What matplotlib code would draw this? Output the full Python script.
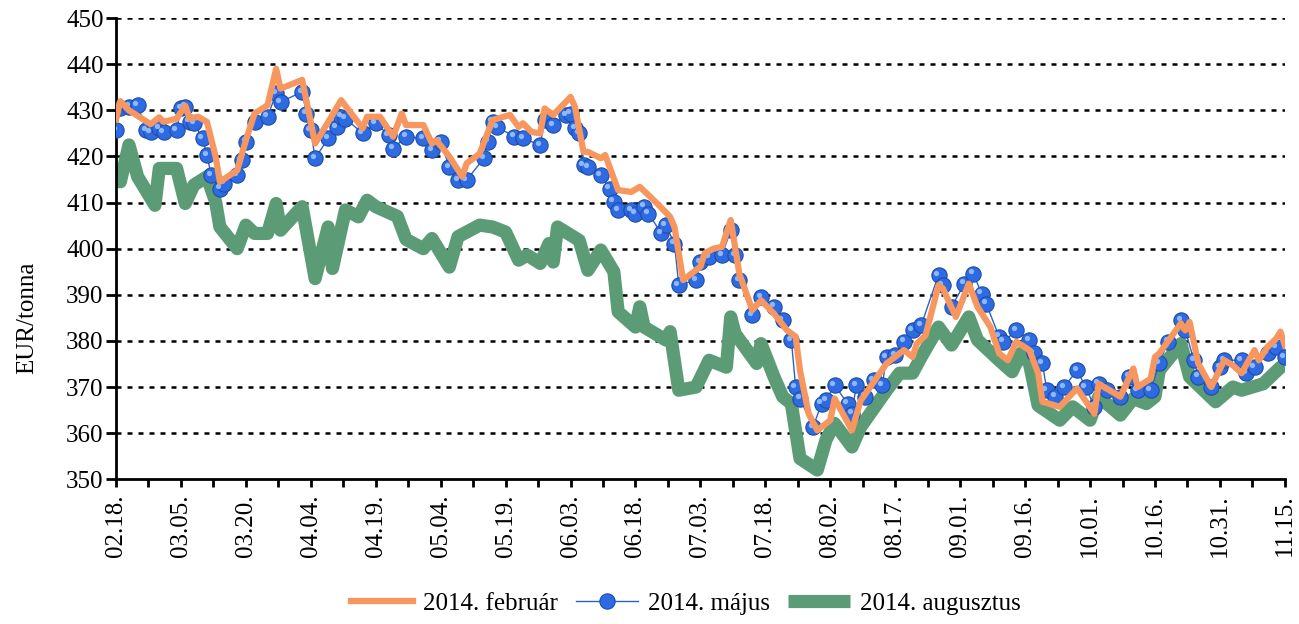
import matplotlib

matplotlib.use("Agg")
import matplotlib.pyplot as plt
import matplotlib.dates as mdates
import matplotlib.transforms as mtransforms
import pandas as pd

START = pd.Timestamp("2013-02-18")

# day offsets from 02.18. and prices (EUR/tonna)
feb_days = [0, 1, 3, 8, 10, 11, 14, 16, 17, 19, 21, 23, 24, 28, 30, 32, 35, 37, 38, 43,
            46, 50, 52, 57, 58, 61, 64, 66, 67, 71, 73, 74, 77, 80, 81, 84, 87, 91, 93, 94,
            96, 98, 99, 101, 105, 106, 108, 109, 112, 113, 116, 119, 121, 125, 128, 129, 131, 135, 136, 138,
            140, 142, 144, 147, 149, 152, 155, 157, 158, 160, 162, 165, 166, 170, 172, 178, 182, 184, 185, 187,
            190, 191, 194, 197, 199, 202, 204, 206, 208, 211, 213, 214, 218, 222, 226, 227, 232, 235, 236, 239,
            240, 241, 246, 247, 248, 250, 253, 256, 258, 260, 263, 264, 266, 268, 269, 270]
feb_vals = [428, 432, 430, 427, 428.5, 427.5, 428.2, 431, 428.2, 428.6, 427.5, 420, 414.5, 417, 423.5, 429.3, 431.1, 439, 434.7, 436.6,
            422.8, 429, 432.2, 426.1, 428.6, 428.6, 424.3, 429.3, 426.8, 426.8, 422.8, 423.5, 420, 415.6, 418.5, 420.6, 427.9, 429, 426.4, 427.2,
            425.3, 425, 430.4, 429, 432.9, 430.8, 421, 421, 419.6, 420.3, 412.7, 412.3, 413.4, 409.8, 406.9, 404.7, 393.2, 396.1, 399, 400,
            400.4, 406.2, 394.5, 386.7, 388.8, 385.9, 382.3, 380.9, 373.6, 364.2, 360.6, 362.8, 367.5, 360.6, 367, 375.1, 378, 376.5, 379.4, 381.2,
            392.1, 391.4, 385.2, 392.4, 387.4, 383, 377.3, 375.8, 379.8, 378, 373, 366.8, 365.7, 369.7, 364.2, 370.7, 367.9, 374, 370, 371.8,
            376.5, 377.3, 383.8, 382.3, 384.1, 375.1, 370, 375.8, 374.7, 373, 378, 375.8, 378.7, 380.5, 382, 379]

maj_days = [0, 1, 3, 5, 7, 8, 10, 11, 14, 15, 16, 17, 18, 20, 21, 22, 24, 25, 28, 29,
            30, 32, 35, 37, 38, 43, 44, 45, 46, 49, 51, 52, 53, 57, 60, 63, 64, 67, 71, 73,
            75, 77, 79, 81, 85, 86, 87, 88, 92, 94, 98, 99, 101, 104, 105, 106, 107, 108, 109, 112,
            114, 115, 116, 119, 120, 122, 123, 126, 127, 129, 130, 134, 135, 137, 140, 142, 143, 144, 147, 149,
            152, 154, 156, 157, 158, 161, 163, 164, 166, 169, 170, 171, 173, 175, 177, 178, 180, 182, 184, 186,
            190, 191, 193, 196, 198, 200, 201, 204, 205, 208, 211, 212, 214, 215, 217, 219, 222, 224, 226, 227,
            229, 232, 234, 236, 239, 241, 243, 246, 247, 249, 250, 253, 255, 256, 260, 261, 263, 266, 268, 270]
maj_vals = [425.7, 430.4, 430.8, 431.1, 425.7, 425.3, 426.1, 425.3, 425.7, 430.4, 430.8, 427.5, 427.2, 423.9, 420.3, 415.9, 413, 414.1, 415.9, 419.2,
            423.2, 427.5, 428.6, 433.7, 431.8, 434, 429.3, 425.7, 419.6, 423.9, 426.4, 428.6, 428.2, 425, 427.2, 424.6, 421.7, 424.3, 423.9, 421.4,
            423.2, 417.7, 414.9, 414.9, 419.6, 423.2, 427.5, 426.4, 424.3, 423.9, 422.5, 427.9, 426.8, 429, 429.3, 426.1, 425, 418.1, 417.7, 415.9,
            413, 410.2, 408.4, 408.4, 407.6, 409.1, 407.6, 403.3, 405.1, 401.1, 392.1, 393.2, 397.1, 398.2, 398.6, 404, 398.6, 393.2, 385.6, 389.5,
            387.4, 384.5, 380.2, 370, 367.5, 361.3, 366.4, 367.1, 370.4, 366.4, 364.2, 370.4, 367.9, 371.5, 370.4, 376.5, 376.9, 379.8, 382.3, 383.4,
            394.3, 392.1, 387.4, 392.4, 394.6, 390.2, 388.1, 380.9, 379.8, 382.3, 380.2, 377.3, 375.1, 369.3, 367.9, 370, 373.6, 370, 365.7, 370.7,
            369.3, 367.9, 372.2, 369.3, 369.3, 375.1, 379.8, 384.5, 382.3, 375.8, 372.2, 370, 374.3, 375.8, 375.8, 373, 374.3, 377.3, 378.7, 376.5]

aug_days = [0, 1, 3, 5, 9, 10, 14, 16, 18, 21, 23, 24, 28, 30, 32, 35, 37, 38, 43, 46,
            49, 50, 53, 56, 58, 60, 65, 67, 71, 73, 77, 79, 84, 87, 90, 93, 95, 98, 100, 101,
            102, 107, 109, 112, 115, 116, 120, 121, 122, 127, 128, 130, 134, 137, 141, 142, 143, 148, 149, 152,
            154, 156, 158, 162, 164, 166, 170, 172, 178, 181, 184, 186, 190, 193, 197, 199, 204, 207, 209, 211,
            213, 218, 221, 225, 227, 232, 235, 238, 240, 241, 246, 248, 254, 258, 260, 265, 269, 270]
aug_vals = [417, 414.5, 422.5, 415.6, 409.4, 417.4, 417.4, 409.8, 413.8, 415.6, 410.2, 404.7, 400, 405.1, 403.3, 403.3, 409.8, 404, 409.1, 393.5,
            404.7, 395.7, 408.4, 406.9, 410.5, 409.1, 407, 402, 400, 402.2, 396, 402.6, 405.1, 404.7, 403.6, 397.5, 398.6, 396.8, 401.1, 397.1,
            404.7, 401.8, 395.3, 399.7, 395, 386.3, 383, 387.4, 383, 380.2, 382, 369.3, 370, 375.8, 374.3, 385.2, 381.6, 375.1, 379.4, 372.2,
            367.9, 366.4, 354.5, 352, 358.5, 362.1, 357, 361.3, 369.3, 373, 373, 376.5, 383, 379.1, 385.2, 380.2, 375.8, 373.3, 377.3, 375.1,
            366, 362.8, 365.7, 362.8, 367.9, 363.9, 367.5, 366.4, 367.9, 373.6, 379.4, 372.2, 366.8, 370, 369.3, 370.7, 374.3, 373.3]

labels = ["2014. február", "2014. május", "2014. augusztus"]


def to_dates(days):
    return START + pd.to_timedelta(days, unit="D")


plt.rcParams["font.family"] = ["Liberation Serif", "DejaVu Serif"]

fig = plt.figure(figsize=(12.99, 6.24), dpi=100)
ax = fig.add_axes([0.0893, 0.232, 0.8998, 0.739])

ax.plot(to_dates(aug_days), aug_vals, color="#5B9C76", linewidth=9.5, solid_joinstyle="round",
        solid_capstyle="butt", label=labels[2], zorder=2)
ax.plot(to_dates(maj_days), maj_vals, color="#2A62C9", linewidth=1, marker="o", markersize=11,
        markerfacecolor="#2E6BE3", markeredgecolor="#1C4DA8", markeredgewidth=0.8,
        label=labels[1], zorder=3)
# small highlight on the spheres
hl = mtransforms.offset_copy(ax.transData, fig=fig, x=-1.7, y=1.7, units="points")
ax.plot(to_dates(maj_days), maj_vals, linestyle="none", marker="o", markersize=3.8,
        markerfacecolor="#8DB8FF", markeredgewidth=0, transform=hl, zorder=3.1)
ax.plot(to_dates(feb_days), feb_vals, color="#F7965F", linewidth=4.5, label=labels[0], zorder=4)

ax.set_ylim(350, 450)
ax.set_yticks(range(350, 451, 10))
ax.set_xlim(START, START + pd.Timedelta(days=270))
major = [mdates.date2num(START + pd.Timedelta(days=15 * i)) for i in range(19)]
minor = [m + 7.5 for m in major[:-1]]
ax.set_xticks(major)
ax.set_xticks(minor, minor=True)
ax.xaxis.set_major_formatter(mdates.DateFormatter("%m.%d."))

ax.tick_params(axis="x", which="both", direction="out", length=6, width=2, rotation=90,
               labelsize=18, pad=5)
ax.tick_params(axis="y", direction="out", length=7, width=2, labelsize=18, pad=2)

for v in range(360, 451, 10):
    ax.axhline(v, color="black", linewidth=1.8, linestyle=(0, (2.0, 2.4)), zorder=1)

for side in ["top", "right"]:
    ax.spines[side].set_visible(False)
ax.spines["left"].set_linewidth(2)
ax.spines["bottom"].set_linewidth(2)

fig.text(0.021, 0.49, "EUR/tonna", rotation=90, ha="center", va="center", fontsize=18)

handles, labs = ax.get_legend_handles_labels()
order = [labs.index(l) for l in labels]
fig.legend([handles[i] for i in order], [labs[i] for i in order], loc="lower center",
           bbox_to_anchor=(0.528, -0.022), ncol=3, frameon=False, fontsize=18,
           handlelength=2.5, columnspacing=0.7, handletextpad=0.4)

fig.savefig("out.png", dpi=100)
plt.close(fig)
